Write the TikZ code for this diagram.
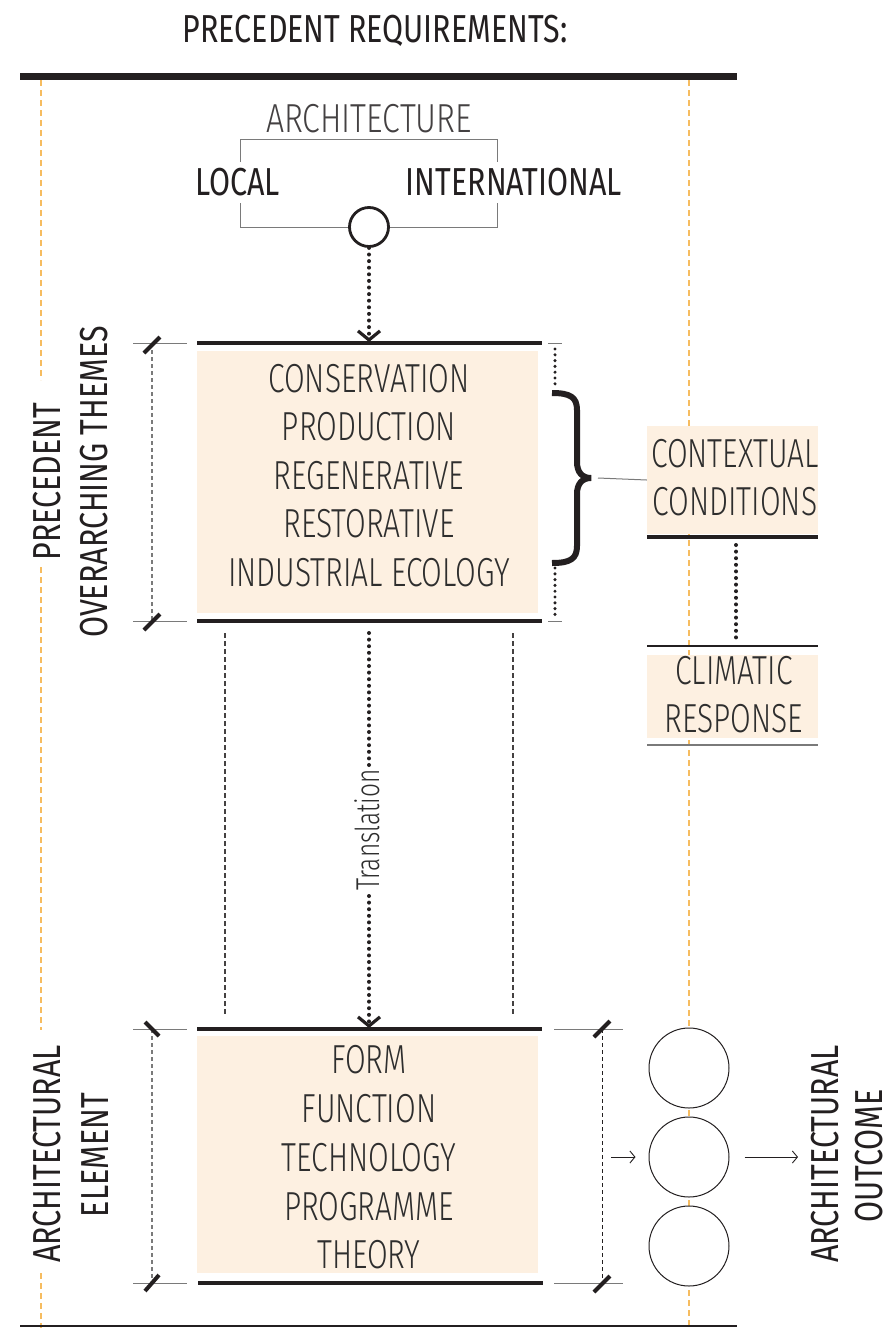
\documentclass[tikz,border=0pt]{standalone}
\usepackage{fontspec}
\setmainfont{Fira Sans}[FakeStretch=0.78]
\newfontfamily\lightf{Fira Sans Light}[FakeStretch=0.74]
\usetikzlibrary{arrows.meta}
\definecolor{ink}{HTML}{231F20}
\definecolor{peach}{HTML}{FDF0E1}
\definecolor{amber}{HTML}{F6BC60}
\definecolor{dimgray}{HTML}{7A7A7A}
\definecolor{txt}{HTML}{2E2E2E}
\tikzset{
  heavy/.style={draw=ink, line width=4.5pt},
  toprule/.style={draw=ink, line width=7pt},
  thinrule/.style={draw=dimgray, line width=1pt},
  guide/.style={draw=amber, line width=1.6pt, dash pattern=on 6pt off 4pt},
  dimdash/.style={draw=dimgray, line width=1.2pt, dash pattern=on 4pt off 3pt},
  darkdash/.style={draw=ink!85, line width=1.6pt, dash pattern=on 5pt off 3pt},
  dots/.style={draw=ink, line width=4pt, line cap=round, dash pattern=on 0pt off 6.6pt},
  smalldots/.style={draw=ink, line width=3.4pt, line cap=round, dash pattern=on 0pt off 5.8pt},
  tickmark/.style={draw=ink, line width=4pt},
  chev/.style={-{Straight Barb[length=9pt,width=22pt,line width=3.2pt]}},
  smallarrow/.style={draw=ink, line width=0.9pt, -{Straight Barb[length=5pt,width=12pt,line width=0.9pt]}},
  bigtxt/.style={font=\fontsize{39}{46}\selectfont, text=ink, inner sep=0pt, anchor=base},
  lighttxt/.style={font=\lightf\fontsize{40.5}{48}\selectfont, text=txt, inner sep=0pt, anchor=base},
  panel/.style={fill=peach, draw=none, inner sep=0pt},
  ring/.style={circle, draw=ink, fill=white, inner sep=0pt},
}
\begin{document}
\begin{tikzpicture}[x=1pt,y=-1pt]
\useasboundingbox (0,0) rectangle (891,1328);
\fill[white] (0,0) rectangle (891,1328);

% guides
\draw[guide] (41,80) -- (41,380);
\draw[guide] (41,567) -- (41,1030);
\draw[guide] (41,1273) -- (41,1328);
\draw[guide] (689,80) -- (689,1328);

% title and rules
\node[bigtxt] (title) at (375,42) {PRECEDENT REQUIREMENTS:};
\draw[toprule] (20,76) -- (737,76);
\draw[draw=ink, line width=1.5pt] (20,1326) -- (737,1326);

% architecture bracket
\node[lighttxt, text=ink!85, font=\lightf\fontsize{40.5}{48}\selectfont\addfontfeatures{FakeStretch=0.79}] (arch) at (369,132) {ARCHITECTURE};
\node[bigtxt, anchor=base west] (local) at (195,195) {LOCAL};
\node[bigtxt, anchor=base east] (intl) at (622,195) {INTERNATIONAL};
\node[ring, line width=2.8pt, minimum size=39pt] (c0) at (369,227) {};
\draw[thinrule] (240,162) -- (240,139) -- (497,139) -- (497,162);
\draw[thinrule] (240,203) -- (240,227) -- (c0.west);
\draw[thinrule] (c0.east) -- (497,227) -- (497,203);

% themes panel
\node[panel, minimum width=341pt, minimum height=262pt] (themes) at (367.5,482) {};
\coordinate (thTop) at (369,342);
\draw[heavy] (197,343) -- (542,343);
\draw[heavy] (197,621) -- (542,621);
\node[lighttxt] (t1) at (369,392) {CONSERVATION};
\node[lighttxt] (t2) at (369,440) {PRODUCTION};
\node[lighttxt] (t3) at (369,489) {REGENERATIVE};
\node[lighttxt] (t4) at (369,537) {RESTORATIVE};
\node[lighttxt] (t5) at (369,586) {INDUSTRIAL ECOLOGY};
\draw[dots, chev] (c0.south) -- (thTop);

% left dimension (themes)
\draw[thinrule] (133,343) -- (187,343);
\draw[thinrule] (133,621) -- (187,621);
\draw[dimdash] (152,343) -- (152,621);
\draw[tickmark] (144,353) -- (160,337);
\draw[tickmark] (144,630) -- (160,614);
\node[bigtxt, rotate=90] (lab1) at (60,481.5) {PRECEDENT};
\node[bigtxt, rotate=90] (lab2) at (107,482) {OVERARCHING THEMES};

% right dimension and brace
\draw[thinrule] (548,343) -- (562,343);
\draw[thinrule] (548,621) -- (562,621);
\draw[smalldots] (555,349) -- (555,389);
\draw[smalldots] (555,568) -- (555,617);
\draw[draw=ink, line width=6pt] (552,393) .. controls (570,393) and (577,397) .. (577,410) -- (577,462) .. controls (577,472) and (582,478) .. (591,478) .. controls (582,478) and (577,484) .. (577,494) -- (577,546) .. controls (577,559) and (570,563) .. (552,563);
\coordinate (braceTip) at (598,478);

% contextual conditions
\node[panel, minimum width=171pt, minimum height=108pt] (ctx) at (732.5,480) {};
\draw[thinrule] (braceTip) -- (ctx.west);
\draw[heavy] (647,537) -- (818,537);
\node[lighttxt] (ctx1) at (735,467) {CONTEXTUAL};
\node[lighttxt] (ctx2) at (735,515) {CONDITIONS};
\coordinate (ctxDot) at (736,545);
\coordinate (climDot) at (736,640);
\draw[dots] (ctxDot) -- (climDot);

% climatic response
\draw[draw=ink, line width=1.2pt] (647,646) -- (818,646);
\node[panel, minimum width=171pt, minimum height=83pt] (clim) at (732.5,696.5) {};
\draw[draw=dimgray, line width=2pt] (647,745) -- (818,745);
\node[lighttxt] (cl1) at (734,684) {CLIMATIC};
\node[lighttxt] (cl2) at (734,732) {RESPONSE};

% translation
\draw[darkdash] (225,633) -- (225,1014);
\draw[darkdash] (513,633) -- (513,1014);
\node[font=\lightf\fontsize{33}{36}\selectfont, text=txt, inner sep=0pt, anchor=base, rotate=90] (tr) at (379,830) {Translation};
\coordinate (trTop) at (369,633);
\coordinate (elTop) at (369,1028);
\draw[dots] (trTop) -- (369,766);
\draw[dots, chev] (369,896) -- (elTop);

% element panel
\node[panel, minimum width=341pt, minimum height=237pt] (elem) at (367.5,1154.5) {};
\draw[heavy] (197,1029) -- (542,1029);
\draw[heavy] (198,1283) -- (543,1283);
\node[lighttxt] (e1) at (369,1073) {FORM};
\node[lighttxt] (e2) at (369,1122) {FUNCTION};
\node[lighttxt] (e3) at (369,1171) {TECHNOLOGY};
\node[lighttxt] (e4) at (369,1220) {PROGRAMME};
\node[lighttxt] (e5) at (369,1268) {THEORY};

% left dimension (element)
\draw[thinrule] (133,1029) -- (187,1029);
\draw[thinrule] (133,1283) -- (187,1283);
\draw[dimdash] (152,1029) -- (152,1283);
\draw[tickmark] (145,1022) -- (159,1036);
\draw[tickmark] (145,1291) -- (159,1275);
\node[bigtxt, rotate=90] (lab3) at (60,1154) {ARCHITECTURAL};
\node[bigtxt, rotate=90] (lab4) at (108,1155) {ELEMENT};

% right dimension (element)
\draw[thinrule] (554,1029) -- (623,1029);
\draw[thinrule] (554,1283) -- (623,1283);
\draw[draw=ink, line width=1pt, dash pattern=on 4pt off 3pt] (602,1029) -- (602,1283);
\draw[tickmark] (594,1037) -- (610,1021);
\draw[tickmark] (594,1292) -- (610,1276);

% outcome circles
\node[ring, line width=1pt, minimum size=80pt] (o1) at (689,1068) {};
\node[ring, line width=1pt, minimum size=80pt] (o2) at (689,1157) {};
\node[ring, line width=1pt, minimum size=80pt] (o3) at (689,1246) {};
\coordinate (inA) at (611,1157);
\coordinate (outB) at (798,1157);
\draw[smallarrow] (inA) -- ([xshift=-13pt]o2.west);
\draw[smallarrow] ([xshift=15pt]o2.east) -- (outB);
\node[bigtxt, rotate=90] (lab5) at (838,1154) {ARCHITECTURAL};
\node[bigtxt, rotate=90] (lab6) at (882,1156) {OUTCOME};
\end{tikzpicture}
\end{document}
